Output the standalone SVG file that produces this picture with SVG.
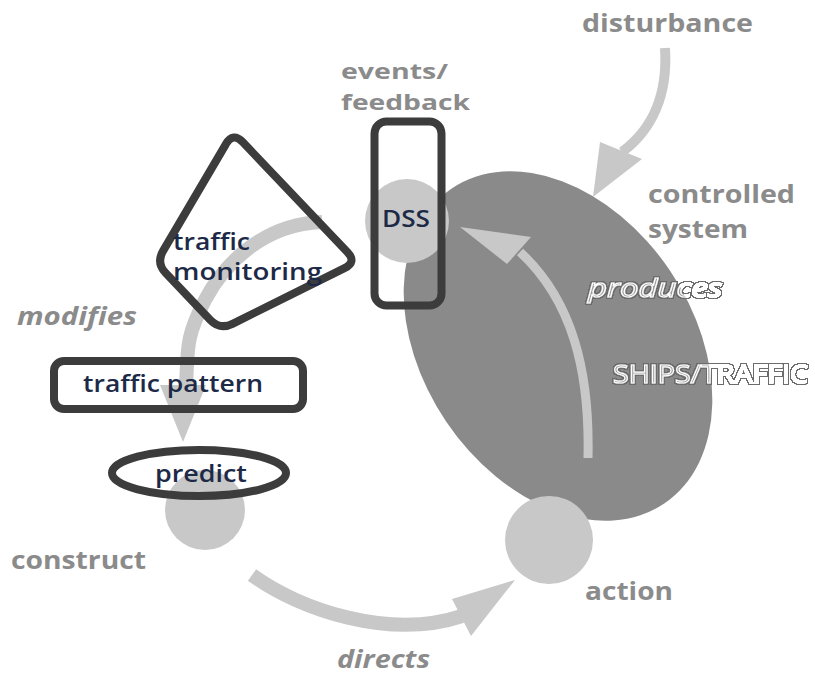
<svg xmlns="http://www.w3.org/2000/svg" width="815" height="676" viewBox="0 0 815 676">
  <style>
    .lbl { font-family: "Open Sans", "Liberation Sans", sans-serif; font-weight: 700; font-size: 25px; fill: #8b8b8b; }
    .sm { font-size: 22px; }
    .it { font-style: italic; }
    .navy { font-family: "Open Sans", "Liberation Sans", sans-serif; font-weight: 600; font-size: 24px; fill: #1d2a47; }
    .outl { font-family: "Open Sans", "Liberation Sans", sans-serif; font-size: 25px; fill: #ffffff; fill-opacity: 0.13; stroke: #ffffff; stroke-width: 1.1; filter: url(#rim); }
    .frame { fill: none; stroke: #3c3c3c; stroke-width: 8; stroke-linejoin: round; }
    .dot { fill: #c8c8c8; }
    .flow { fill: none; stroke: #c8c8c8; }
    .head { fill: #c8c8c8; }
  </style>
  <defs>
    <!-- thin grey rim around outlined lettering -->
    <filter id="rim" x="-5%" y="-25%" width="110%" height="150%">
      <feComponentTransfer in="SourceAlpha" result="solid">
        <feFuncA type="linear" slope="20"/>
      </feComponentTransfer>
      <feMorphology in="solid" operator="dilate" radius="1" result="grown"/>
      <feComposite in="grown" in2="solid" operator="out" result="ring"/>
      <feFlood flood-color="#6c6c6c"/>
      <feComposite in2="ring" operator="in" result="rimc"/>
      <feMerge>
        <feMergeNode in="rimc"/>
        <feMergeNode in="SourceGraphic"/>
      </feMerge>
    </filter>
  </defs>
  <rect width="815" height="676" fill="#ffffff"/>

  <!-- controlled system: ships / traffic -->
  <g id="controlled-system">
    <ellipse cx="558" cy="346" rx="190" ry="135" transform="rotate(56 558 346)" fill="#8a8a8a"/>
    <text class="outl" x="613" y="383" textLength="195" lengthAdjust="spacingAndGlyphs">SHIPS/TRAFFIC</text>
    <text class="lbl"><tspan x="648" y="203" textLength="147" lengthAdjust="spacingAndGlyphs">controlled</tspan><tspan x="648" y="238" textLength="100" lengthAdjust="spacingAndGlyphs">system</tspan></text>
  </g>

  <!-- loop points -->
  <g id="construct">
    <circle class="dot" cx="205" cy="510" r="40"/>
    <text class="lbl" x="11" y="569" textLength="135" lengthAdjust="spacingAndGlyphs">construct</text>
  </g>
  <g id="action">
    <circle class="dot" cx="549" cy="540" r="44"/>
    <text class="lbl" x="585" y="600" textLength="88" lengthAdjust="spacingAndGlyphs">action</text>
  </g>
  <g id="dss-point">
    <circle class="dot" cx="407" cy="221" r="42"/>
  </g>

  <!-- connectors -->
  <g id="connectors">
    <!-- monitoring modifies construct -->
    <path class="flow" stroke-width="14" d="M322,222 C265,224 225,262 205,300 S188,350 186,386"/>
    <polygon class="head" points="160,385 206,385 183,442"/>
    <!-- construct directs action -->
    <path class="flow" stroke-width="14" d="M252,575 C300,610 390,640 462,616"/>
    <polygon class="head" points="452,599 515,580 471,636"/>
    <!-- system produces events -->
    <path class="flow" stroke-width="9" d="M588,458 C590,370 572,300 520,252"/>
    <polygon class="head" points="531,237 460,227 507,264"/>
    <!-- disturbance into system -->
    <path class="flow" stroke-width="10" d="M665,48 C668,95 652,130 622,152"/>
    <polygon class="head" points="600,142 642,159 593,197"/>
    <text class="lbl it" x="17" y="325" textLength="120" lengthAdjust="spacingAndGlyphs">modifies</text>
    <text class="lbl it" x="337" y="668" textLength="93" lengthAdjust="spacingAndGlyphs">directs</text>
    <text class="outl it" x="588" y="297" textLength="134" lengthAdjust="spacingAndGlyphs">produces</text>
    <text class="lbl" x="582" y="32" textLength="171" lengthAdjust="spacingAndGlyphs">disturbance</text>
  </g>

  <!-- decision support system -->
  <g id="dss">
    <rect class="frame" x="374.5" y="121.5" width="67" height="184" rx="12"/>
    <text class="navy" x="382" y="227" textLength="48" lengthAdjust="spacingAndGlyphs">DSS</text>
    <text class="lbl sm" x="341" y="79" textLength="107" lengthAdjust="spacingAndGlyphs">events/</text>
    <text class="lbl sm" x="341" y="110" textLength="129" lengthAdjust="spacingAndGlyphs">feedback</text>
  </g>

  <g id="traffic-monitoring">
    <path class="frame" stroke-width="9" d="M225.9,144.1 L163.1,250.9 Q156,263 165.7,273.1 L210.3,319.9 Q220,330 232.5,323.8 L344.5,268.2 Q357,262 347.3,251.9 L242.7,142.1 Q233,132 225.9,144.1 Z"/>
    <text class="navy"><tspan x="173" y="250" textLength="77" lengthAdjust="spacingAndGlyphs">traffic</tspan><tspan x="173" y="280" textLength="149" lengthAdjust="spacingAndGlyphs">monitoring</tspan></text>
  </g>

  <g id="traffic-pattern">
    <rect class="frame" x="54" y="361" width="249" height="48" rx="10"/>
    <text class="navy" x="83" y="392" textLength="180" lengthAdjust="spacingAndGlyphs">traffic pattern</text>
  </g>

  <g id="predict">
    <ellipse class="frame" cx="199" cy="473" rx="87" ry="23"/>
    <text class="navy" x="155" y="482" textLength="92" lengthAdjust="spacingAndGlyphs">predict</text>
  </g>
</svg>
